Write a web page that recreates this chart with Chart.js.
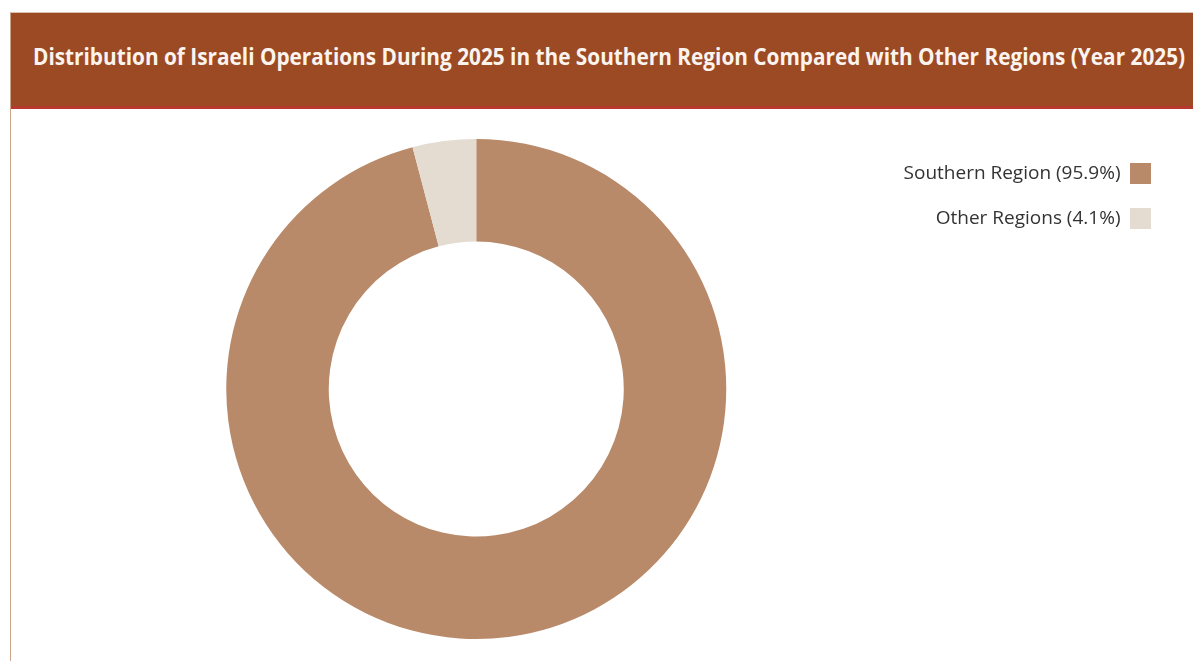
<!DOCTYPE html>
<html>
<head>
<meta charset="utf-8">
<script src="https://cdn.jsdelivr.net/npm/chart.js@4.4.1/dist/chart.umd.min.js"></script>
<style>
  html, body { margin: 0; padding: 0; background: #fff; }
  body { width: 1193px; height: 661px; overflow: hidden; position: relative; }
  .panel {
    position: absolute; left: 10px; top: 12px; right: 0; bottom: 0;
    border-left: 1px solid #c9a48a; border-top: 1px solid #d9c2b2;
  }
  .header {
    position: absolute; left: 0; top: 0; right: 0; height: 93px;
    background: #9b4a24; border-bottom: 3px solid #b83a2e;
  }
  .header span {
    position: absolute; left: 22px; top: 26px; white-space: nowrap;
    font-family: "Open Sans", sans-serif; font-weight: 700; font-size: 24px;
    color: #fbf4ee; transform-origin: 0 50%; display: inline-block;
  }
  .chart-wrap { position: absolute; left: 0; top: 96px; right: 0; bottom: 0; }
</style>
</head>
<body>
<div class="panel">
  <div class="header"><span id="title">Distribution of Israeli Operations During 2025 in the Southern Region Compared with Other Regions (Year 2025)</span></div>
  <div class="chart-wrap"><canvas id="chart"></canvas></div>
</div>
<script>
// Share of operations by region
const regions = ['Southern Region', 'Other Regions'];
const shares = [95.9, 4.1];
const sliceColors = ['#b98a69', '#e4dbd1'];

// squeeze the title into the header width (condensed look)
const title = document.getElementById('title');
const targetWidth = 1152;
title.style.transform = 'scaleX(' + (targetWidth / title.offsetWidth) + ')';

const ctx = document.getElementById('chart');
new Chart(ctx, {
  type: 'doughnut',
  data: {
    labels: regions.map((r, i) => `${r} (${shares[i]}%)`),
    datasets: [{
      data: shares,
      backgroundColor: sliceColors,
      borderWidth: 0,
      hoverOffset: 0
    }]
  },
  options: {
    responsive: true,
    maintainAspectRatio: false,
    animation: false,
    cutout: '59%',
    layout: {
      padding: { left: 48, right: 18, top: 30, bottom: 22 }
    },
    plugins: {
      legend: {
        position: 'right',
        align: 'start',
        rtl: true,
        labels: {
          boxWidth: 21,
          boxHeight: 21,
          padding: 24,
          color: '#333',
          font: { family: '"Open Sans", sans-serif', size: 19 }
        }
      },
      tooltip: { enabled: false }
    }
  }
});
</script>
</body>
</html>
